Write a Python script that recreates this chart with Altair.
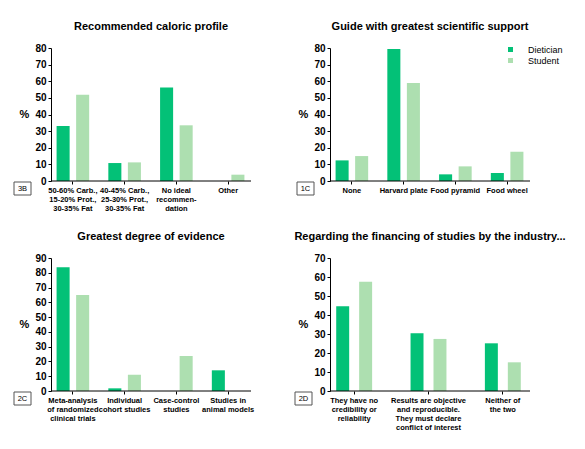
import altair as alt
import pandas as pd

FONT = "Liberation Sans"
groups = ["Dietician", "Student"]
colors = ["#03C177", "#ADDFB0"]

# Panel 3B
title_3b = "Recommended caloric profile"
cat_3b = ["50-60% Carb.,\n15-20% Prot.,\n30-35% Fat",
          "40-45% Carb.,\n25-30% Prot.,\n30-35% Fat",
          "No ideal\nrecommen-\ndation",
          "Other"]
diet_3b = [33.1, 10.8, 56.3, 0.0]
stud_3b = [51.9, 11.2, 33.5, 3.8]

# Panel 1C
title_1c = "Guide with greatest scientific support"
cat_1c = ["None", "Harvard plate", "Food pyramid", "Food wheel"]
diet_1c = [12.4, 79.4, 4.0, 4.8]
stud_1c = [15.0, 58.9, 8.8, 17.6]

# Panel 2C
title_2c = "Greatest degree of evidence"
cat_2c = ["Meta-analysis\nof randomized\nclinical trials",
          "Individual\ncohort studies",
          "Case-control\nstudies",
          "Studies in\nanimal models"]
diet_2c = [83.7, 1.8, 0.0, 14.0]
stud_2c = [65.0, 11.0, 23.7, 0.0]

# Panel 2D
title_2d = "Regarding the financing of studies by the industry..."
cat_2d = ["They have no\ncredibility or\nreliability",
          "Results are objective\nand reproducible.\nThey must declare\nconflict of interest",
          "Neither of\nthe two"]
diet_2d = [44.6, 30.4, 25.1]
stud_2d = [57.5, 27.4, 15.1]

W, H = 200, 133


def panel(title, label, cats, diet, stud, ymax, xrange, pi, po, box_x, legend=False):
    n = len(cats)
    df = pd.DataFrame({
        "category": cats * 2,
        "group": ["Dietician"] * n + ["Student"] * n,
        "value": diet + stud,
    })
    if legend:
        leg = alt.Legend(title=None, orient="none", legendX=176, legendY=-3,
                         symbolType="square", symbolSize=25, symbolStrokeWidth=0,
                         labelFontSize=9, labelFont=FONT, labelOffset=13,
                         rowPadding=1, labelColor="black")
    else:
        leg = None
    bars = alt.Chart(df).mark_bar().encode(
        x=alt.X("category:N", sort=cats,
                scale=alt.Scale(range=xrange, paddingInner=0, paddingOuter=0),
                axis=alt.Axis(title=None, domain=False, labelAngle=0,
                              labelExpr="split(datum.label, '\\n')",
                              labelFontSize=7.5, labelFontWeight="bold",
                              labelLineHeight=9, labelPadding=2,
                              labelLimit=300, tickSize=3, labelBaseline="top")),
        xOffset=alt.XOffset("group:N", sort=groups,
                            scale=alt.Scale(paddingInner=pi, paddingOuter=po)),
        y=alt.Y("value:Q", scale=alt.Scale(domain=[0, ymax], nice=False),
                axis=alt.Axis(values=list(range(0, ymax + 1, 10)), title="%",
                              titleAngle=0, titleX=-27, titleY=66,
                              titleAlign="center", titleBaseline="middle",
                              titleFontSize=11, titleFontWeight="bold",
                              labelFontSize=10, labelFontWeight="bold",
                              tickSize=3, labelPadding=2)),
        color=alt.Color("group:N", scale=alt.Scale(domain=groups, range=colors),
                        legend=leg),
    )
    lab = pd.DataFrame({"label": [label]})
    axis_line = alt.Chart(lab).mark_rule(color="black", strokeWidth=1).encode(
        x=alt.value(0), x2=alt.value(W), y=alt.value(H))
    box = alt.Chart(lab).mark_rect(fill="white", stroke="#555555", strokeWidth=1).encode(
        x=alt.value(box_x), x2=alt.value(box_x + 17),
        y=alt.value(H + 1), y2=alt.value(H + 14))
    txt = alt.Chart(lab).mark_text(fontSize=7.5, font=FONT, color="black").encode(
        text="label:N", x=alt.value(box_x + 8.5), y=alt.value(H + 7.5))
    return alt.layer(bars, axis_line, box, txt).properties(
        width=W, height=H,
        title=alt.Title(title, fontSize=11, fontWeight="bold", font=FONT, offset=11))


p1 = panel(title_3b, "3B", cat_3b, diet_3b, stud_3b, 80, [-4, 203], 0.333, 0.49, -37)
p2 = panel(title_1c, "1C", cat_1c, diet_1c, stud_1c, 80, [-4, 203], 0.333, 0.49, -33, legend=True)
p3 = panel(title_2c, "2C", cat_2c, diet_2c, stud_2c, 90, [-4, 203], 0.333, 0.49, -37)
p4 = panel(title_2d, "2D", cat_2d, diet_2d, stud_2d, 70, [-13, 210], 0.435, 0.837, -35)

chart = alt.concat(p1, p2, p3, p4, columns=2,
                   spacing={"row": 77, "column": 79}, bounds="flush").resolve_scale(
    color="independent", x="independent", y="independent", xOffset="independent"
).properties(
    padding={"left": 5, "top": 13, "right": 5, "bottom": 5}
).configure_view(stroke=None).configure_axis(
    grid=False, domainColor="black", tickColor="black", labelColor="black",
    titleColor="black", labelFont=FONT, titleFont=FONT, domainWidth=1, tickWidth=1
).configure_title(color="black", anchor="middle")

chart.save("out.html", embed_options={"renderer": "svg", "actions": False})
